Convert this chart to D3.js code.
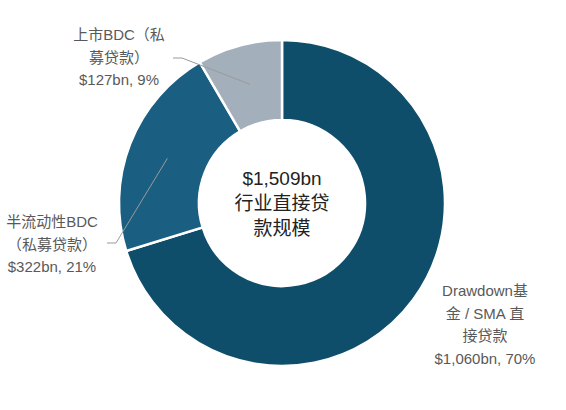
<!DOCTYPE html>
<html>
<head>
<meta charset="utf-8">
<script src="https://cdn.jsdelivr.net/npm/d3@7"></script>
<style>
  body { margin: 0; background: #fff; }
  svg text { font-family: "Liberation Sans", "Noto Sans CJK SC", sans-serif; }
</style>
</head>
<body>
<div id="chart"></div>
<script>
const categories = ["Drawdown基金 / SMA 直接贷款", "半流动性BDC（私募贷款）", "上市BDC（私募贷款）"];
const values = [1060, 322, 127];
const shares = ["70%", "21%", "9%"];
const labelLines = [
  ["Drawdown基", "金 / SMA 直", "接贷款", "$1,060bn, 70%"],
  ["半流动性BDC", "（私募贷款）", "$322bn, 21%"],
  ["上市BDC（私", "募贷款）", "$127bn, 9%"]
];
const centerLines = ["$1,509bn", "行业直接贷", "款规模"];
const colors = ["#0f4e6a", "#1a5f81", "#a3afbb"];

const w = 566, h = 410;
const cx = 282, cy = 203;
const outerR = 163, innerR = 83;

// label anchor (middle of first line) and leader elbow, per slice
const labelPos = [
  { x: 485, y: 296, line: null },
  { x: 52, y: 227, line: [[116, 243], [107, 243]] },
  { x: 119, y: 40, line: [[182, 58], [173, 58]] }
];

const svg = d3.select("#chart").append("svg")
  .attr("width", w)
  .attr("height", h);

const g = svg.append("g").attr("transform", "translate(" + cx + "," + cy + ")");

const pie = d3.pie().sort(null).value(d => d);
const arcs = pie(values);
const arc = d3.arc().innerRadius(innerR).outerRadius(outerR);

g.selectAll("path.slice")
  .data(arcs)
  .enter()
  .append("path")
  .attr("class", "slice")
  .attr("d", arc)
  .attr("fill", (d, i) => colors[i])
  .attr("stroke", "#fff")
  .attr("stroke-width", 2.5);

// leader lines
arcs.forEach((d, i) => {
  const p = labelPos[i];
  if (!p.line) return;
  const c = arc.centroid(d);
  const pts = [[c[0] + cx, c[1] + cy]].concat(p.line);
  svg.append("path")
    .attr("d", d3.line()(pts))
    .attr("fill", "none")
    .attr("stroke", "#9a9a9a")
    .attr("stroke-width", 1);
});

// slice labels
labelLines.forEach((lines, i) => {
  const t = svg.append("text")
    .attr("x", labelPos[i].x)
    .attr("y", labelPos[i].y)
    .attr("text-anchor", "middle")
    .attr("fill", "#595959")
    .style("font-size", "15px");
  lines.forEach((s, j) => {
    t.append("tspan")
      .attr("x", labelPos[i].x)
      .attr("dy", j === 0 ? 0 : 22.5)
      .text(s);
  });
});

// centre text
const ct = svg.append("text")
  .attr("x", cx)
  .attr("y", cy - 18)
  .attr("text-anchor", "middle")
  .attr("fill", "#222")
  .style("font-size", "19px");
centerLines.forEach((s, j) => {
  ct.append("tspan")
    .attr("x", cx)
    .attr("dy", j === 0 ? 0 : 25)
    .text(s);
});
</script>
</body>
</html>
